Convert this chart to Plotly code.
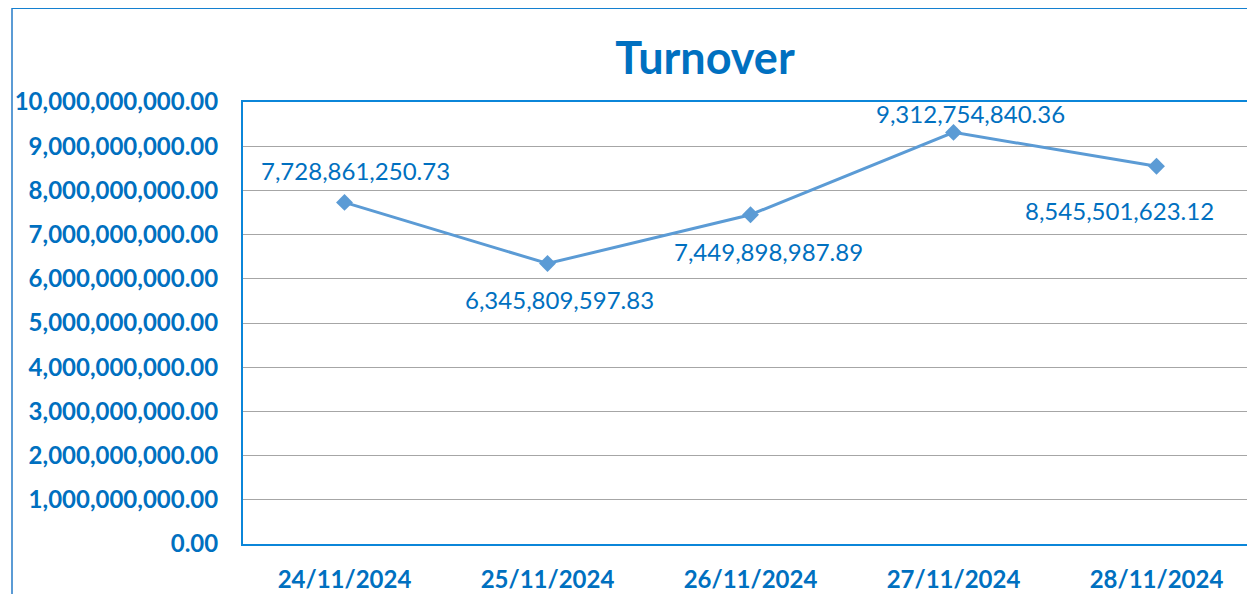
import plotly.graph_objects as go

dates = ["24/11/2024", "25/11/2024", "26/11/2024", "27/11/2024", "28/11/2024"]
turnover = [7728861250.73, 6345809597.83, 7449898987.89, 9312754840.36, 8545501623.12]
y_ticks = [i * 1_000_000_000 for i in range(11)]

# label offsets (style, px)
label_dx = [11, 12, 18, 17, -37]
label_dy = [32, -36, -37, 19, -44]

BLUE = "#0070C0"
LINE = "#5B9BD5"
FONT = "Lato, Calibri, Carlito, sans-serif"

fig = go.Figure()
fig.add_trace(go.Scatter(
    x=list(range(len(dates))), y=turnover, mode="lines+markers",
    line=dict(color=LINE, width=3),
    marker=dict(symbol="diamond", size=13, color=LINE),
    showlegend=False, hoverinfo="skip",
))

for i, v in enumerate(turnover):
    fig.add_annotation(
        x=i, y=v, xref="x", yref="y", text=f"{v:,.2f}", showarrow=False,
        xshift=label_dx[i], yshift=label_dy[i],
        font=dict(family=FONT, size=24, color=BLUE),
    )

OFF = 8  # default page body margin
W, H = 1255 - OFF, 594 - OFF
L, T = 243 - OFF, 102 - OFF
B = H - (544 - OFF)
plot_w = W - L
px_per_cat = 203
x_max = plot_w / px_per_cat - 0.5

fig.update_layout(
    width=W, height=H,
    margin=dict(l=L, r=0, t=T, b=B, autoexpand=False),
    paper_bgcolor="white", plot_bgcolor="white",
    title=dict(text="<b>Turnover</b>", x=(705 - OFF) / W, xref="container",
               xanchor="center", y=1 - (58 - OFF) / H, yanchor="middle",
               font=dict(family=FONT, size=45, color=BLUE)),
    xaxis=dict(
        range=[-0.5, x_max], tickmode="array", tickvals=list(range(len(dates))),
        ticktext=[f"<b>{d}</b>" for d in dates], showgrid=False, zeroline=False,
        showline=True, mirror=True, linecolor="#0B86D9", linewidth=2,
        ticks="", ticklabelstandoff=13, automargin=False,
        tickfont=dict(family=FONT, size=24, color=BLUE),
    ),
    yaxis=dict(
        range=[0, 10_000_000_000], tickmode="array", tickvals=y_ticks,
        ticktext=[f"<b>{t:,.2f}</b>" for t in y_ticks],
        showgrid=True, gridcolor="#A6A6A6", gridwidth=1, zeroline=False,
        showline=True, mirror=False, linecolor="#0B86D9", linewidth=2,
        ticks="", ticklabelstandoff=18, automargin=False,
        tickfont=dict(family=FONT, size=24, color=BLUE),
    ),
)

# outer chart frame (partially visible)
plot_h = H - T - B
x0 = (12 - 243) / plot_w
y1 = (544 - 8) / plot_h
fig.add_shape(type="line", xref="paper", yref="paper", x0=x0, x1=x0, y0=y1, y1=-0.5,
              line=dict(color=LINE, width=2))
fig.add_shape(type="line", xref="paper", yref="paper", x0=x0, x1=1.5, y0=y1, y1=y1,
              line=dict(color="#1480D0", width=2))

fig.write_html("out.html")
